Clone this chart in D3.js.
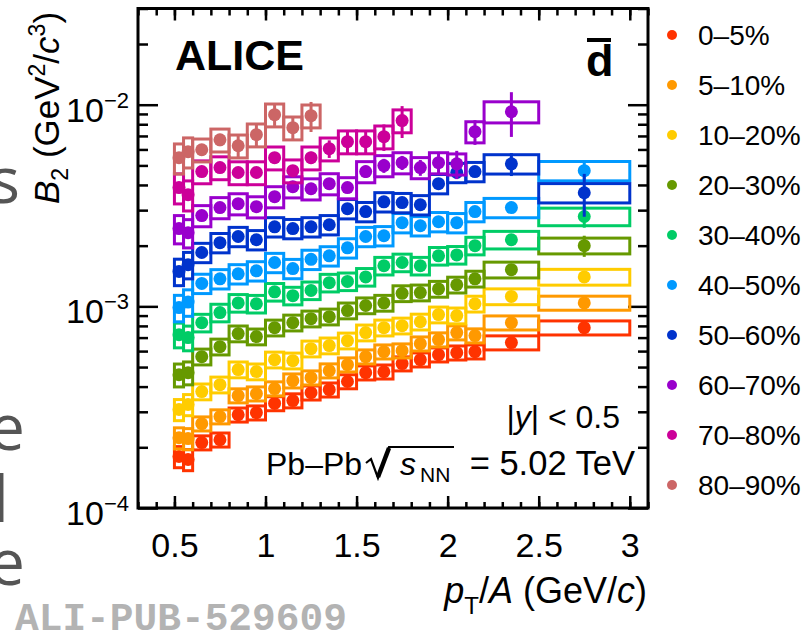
<!DOCTYPE html>
<html>
<head>
<meta charset="utf-8">
<script src="https://cdn.jsdelivr.net/npm/d3@7"></script>
<style>
  body { margin: 0; background: #fff; }
  svg { display: block; font-family: "Liberation Sans", Arial, Helvetica, sans-serif; }
</style>
</head>
<body>
<div id="chart"></div>
<script>
// pT/A bin edges (GeV/c)
var binEdges = [0.5, 0.55, 0.6, 0.7, 0.8, 0.9, 1.0, 1.1, 1.2, 1.3, 1.4, 1.5, 1.6, 1.7, 1.8, 1.9, 2.0, 2.1, 2.2, 2.5, 3.0];

var centralities = ["0–5%", "5–10%", "10–20%", "20–30%", "30–40%", "40–50%", "50–60%", "60–70%", "70–80%", "80–90%"];
var colors = ["#ff3300", "#ff9900", "#ffcc00", "#669900", "#00cc66", "#0099ff", "#0033cc", "#9900cc", "#cc0099", "#cc6666"];

// B2 in units of 1e-3 GeV^2/c^3, one value per bin (null = no point)
var b2_0_5   = [0.180, 0.174, 0.211, 0.218, 0.290, 0.297, 0.330, 0.341, 0.373, 0.386, 0.424, 0.469, 0.474, 0.520, 0.544, 0.576, 0.589, 0.596, 0.661, 0.784];
var b2_5_10  = [0.223, 0.221, 0.262, 0.284, 0.361, 0.369, 0.391, 0.428, 0.443, 0.480, 0.514, 0.563, 0.596, 0.603, 0.653, 0.684, 0.741, 0.716, 0.830, 1.04];
var b2_10_20 = [0.308, 0.326, 0.378, 0.409, 0.486, 0.475, 0.544, 0.538, 0.617, 0.639, 0.676, 0.741, 0.784, 0.802, 0.839, 0.910, 0.900, 1.03, 1.12, 1.40];
var b2_20_30 = [0.458, 0.469, 0.563, 0.631, 0.733, 0.708, 0.784, 0.830, 0.869, 0.889, 0.953, 1.01, 1.04, 1.16, 1.17, 1.22, 1.28, 1.37, 1.52, 2.00];
var b2_30_40 = [0.724, 0.700, 0.830, 0.931, 1.04, 1.03, 1.18, 1.13, 1.20, 1.31, 1.33, 1.40, 1.59, 1.65, 1.59, 1.78, 1.80, 2.00, 2.14, 2.79];
var b2_40_50 = [0.986, 1.05, 1.30, 1.37, 1.45, 1.50, 1.65, 1.54, 1.71, 1.78, 1.95, 2.22, 2.24, 2.60, 2.51, 2.63, 2.60, 2.95, 3.09, 4.71];
var b2_50_60 = [1.49, 1.61, 1.85, 2.07, 2.22, 2.14, 2.48, 2.43, 2.48, 2.54, 3.05, 2.95, 3.30, 3.27, 3.19, 4.06, 4.61, 4.66, 5.09, 3.66];
var b2_60_70 = [2.43, 2.32, 2.82, 3.09, 3.23, 3.12, 3.50, 3.92, 3.83, 4.06, 3.88, 4.66, 4.99, 5.16, 4.88, 5.16, 5.09, 7.35, 9.23, null];
var b2_70_80 = [3.88, 3.58, 4.66, 4.88, 4.61, 4.61, 5.46, 4.71, 5.46, 6.05, 6.56, 6.56, 6.94, 8.34, null, null, null, null, null, null];
var b2_80_90 = [5.46, 5.85, 5.98, 6.70, 6.26, 7.10, 8.92, 7.69, 8.82, null, null, null, null, null, null, null, null, null, null, null];

// relative statistical uncertainties
var stat_0_5   = [0.04, 0.04, 0.03, 0.03, 0.03, 0.03, 0.03, 0.03, 0.03, 0.03, 0.03, 0.03, 0.03, 0.03, 0.03, 0.03, 0.03, 0.03, 0.04, 0.08];
var stat_5_10  = [0.04, 0.04, 0.03, 0.03, 0.03, 0.03, 0.03, 0.03, 0.03, 0.03, 0.03, 0.03, 0.03, 0.03, 0.03, 0.03, 0.03, 0.03, 0.04, 0.06];
var stat_10_20 = [0.04, 0.04, 0.03, 0.03, 0.03, 0.03, 0.03, 0.03, 0.03, 0.03, 0.03, 0.03, 0.03, 0.03, 0.03, 0.03, 0.03, 0.03, 0.04, 0.06];
var stat_20_30 = [0.04, 0.04, 0.03, 0.03, 0.03, 0.03, 0.03, 0.03, 0.03, 0.03, 0.03, 0.03, 0.03, 0.03, 0.03, 0.03, 0.03, 0.04, 0.05, 0.12];
var stat_30_40 = [0.04, 0.04, 0.03, 0.03, 0.03, 0.03, 0.03, 0.03, 0.03, 0.03, 0.03, 0.03, 0.03, 0.03, 0.03, 0.03, 0.04, 0.04, 0.05, 0.12];
var stat_40_50 = [0.04, 0.04, 0.03, 0.03, 0.03, 0.03, 0.03, 0.03, 0.03, 0.03, 0.03, 0.03, 0.03, 0.04, 0.04, 0.04, 0.04, 0.05, 0.05, 0.10];
var stat_50_60 = [0.04, 0.04, 0.03, 0.03, 0.03, 0.03, 0.03, 0.03, 0.04, 0.04, 0.04, 0.04, 0.04, 0.05, 0.05, 0.05, 0.06, 0.06, 0.13, 0.24];
var stat_60_70 = [0.04, 0.04, 0.04, 0.04, 0.04, 0.04, 0.05, 0.05, 0.05, 0.06, 0.06, 0.07, 0.08, 0.08, 0.09, 0.13, 0.16, 0.14, 0.25, null];
var stat_70_80 = [0.05, 0.05, 0.05, 0.05, 0.05, 0.06, 0.06, 0.06, 0.07, 0.10, 0.13, 0.14, 0.15, 0.18, null, null, null, null, null, null];
var stat_80_90 = [0.06, 0.06, 0.05, 0.07, 0.14, 0.13, 0.12, 0.13, 0.17, null, null, null, null, null, null, null, null, null, null, null];

// relative systematic uncertainty per centrality, regular bins / two lowest bins
var sysRel      = [0.08, 0.08, 0.09, 0.09, 0.10, 0.11, 0.11, 0.12, 0.13, 0.13];
var sysRelLowPt = [0.12, 0.12, 0.12, 0.13, 0.14, 0.15, 0.15, 0.16, 0.17, 0.17];

var values = [b2_0_5, b2_5_10, b2_10_20, b2_20_30, b2_30_40, b2_40_50, b2_50_60, b2_60_70, b2_70_80, b2_80_90];
var stats = [stat_0_5, stat_5_10, stat_10_20, stat_20_30, stat_30_40, stat_40_50, stat_50_60, stat_60_70, stat_70_80, stat_80_90];

// axis ticks
var xMajorTicks = [0.5, 1, 1.5, 2, 2.5, 3];
var xTickLabels = ["0.5", "1", "1.5", "2", "2.5", "3"];
var xMinorTicks = [0.3, 0.4, 0.5, 0.6, 0.7, 0.8, 0.9, 1.0, 1.1, 1.2, 1.3, 1.4, 1.5, 1.6, 1.7, 1.8, 1.9, 2.0,
                   2.1, 2.2, 2.3, 2.4, 2.5, 2.6, 2.7, 2.8, 2.9, 3.0, 3.1];
var yMajorTicks = [1e-4, 1e-3, 1e-2];
var yTickExponents = ["−4", "−3", "−2"];
var yMinorTicks = [2e-4, 3e-4, 4e-4, 5e-4, 6e-4, 7e-4, 8e-4, 9e-4,
                   2e-3, 3e-3, 4e-3, 5e-3, 6e-3, 7e-3, 8e-3, 9e-3, 2e-2, 3e-2];

var svgWidth = 809, svgHeight = 635;
var plot = { left: 138, right: 648, top: 8.5, bottom: 508 };

var svg = d3.select("#chart").append("svg")
    .attr("width", svgWidth)
    .attr("height", svgHeight);

// scales
var xScale = d3.scaleLinear().domain([0.3, 3.1]).range([plot.left, plot.right]);
var yScale = d3.scaleLog().domain([1e-4, 3e-2]).range([plot.bottom, plot.top]);

// leftover text from a neighbouring slide, cut at the left edge
var fragments = [["s", 20, 203], ["e", 25, 450], ["l", 9, 522], ["e", 25, 585]];
svg.selectAll(".frag").data(fragments).enter().append("text")
    .attr("class", "frag")
    .attr("x", function(d) { return d[1]; })
    .attr("y", function(d) { return d[2]; })
    .attr("text-anchor", "end")
    .style("font-family", "'Open Sans', sans-serif")
    .style("font-size", "64px")
    .style("fill", "#555")
    .text(function(d) { return d[0]; });

// axes (ticks inside the frame)
function styleAxis(g) {
    g.select(".domain").remove();
    g.selectAll(".tick line").attr("stroke", "#000").attr("stroke-width", 2.5);
}
svg.append("g").attr("transform", "translate(0," + plot.bottom + ")")
    .call(d3.axisBottom(xScale).tickValues(xMinorTicks).tickSize(-6).tickFormat("")).call(styleAxis);
svg.append("g").attr("transform", "translate(0," + plot.top + ")")
    .call(d3.axisTop(xScale).tickValues(xMinorTicks).tickSize(-7).tickFormat("")).call(styleAxis);
var xAxisGroup = svg.append("g").attr("transform", "translate(0," + plot.bottom + ")")
    .call(d3.axisBottom(xScale).tickValues(xMajorTicks).tickSize(-12).tickPadding(25)
        .tickFormat(function(d, i) { return xTickLabels[i]; }))
    .call(styleAxis);
xAxisGroup.selectAll("text").style("font-size", "34px").style("font-family", "'Liberation Sans', Arial, sans-serif").attr("fill", "#000");
svg.append("g").attr("transform", "translate(0," + plot.top + ")")
    .call(d3.axisTop(xScale).tickValues(xMajorTicks).tickSize(-12).tickFormat("")).call(styleAxis);

svg.append("g").attr("transform", "translate(" + plot.left + ",0)")
    .call(d3.axisLeft(yScale).tickValues(yMinorTicks).tickSize(-10).tickFormat("")).call(styleAxis);
svg.append("g").attr("transform", "translate(" + plot.right + ",0)")
    .call(d3.axisRight(yScale).tickValues(yMinorTicks).tickSize(-10).tickFormat("")).call(styleAxis);
svg.append("g").attr("transform", "translate(" + plot.left + ",0)")
    .call(d3.axisLeft(yScale).tickValues(yMajorTicks).tickSize(-20).tickFormat("")).call(styleAxis);
svg.append("g").attr("transform", "translate(" + plot.right + ",0)")
    .call(d3.axisRight(yScale).tickValues(yMajorTicks).tickSize(-20).tickFormat("")).call(styleAxis);

// y tick labels 10^n
var yLab = svg.selectAll(".ylab").data(yMajorTicks).enter().append("text")
    .attr("class", "ylab")
    .attr("x", 129)
    .attr("y", function(d) { return yScale(d) + 17; })
    .attr("text-anchor", "end")
    .style("font-size", "34px");
yLab.append("tspan").text("10");
yLab.append("tspan").attr("dy", -14).style("font-size", "22px")
    .text(function(d, i) { return yTickExponents[i]; });

// frame
svg.append("rect")
    .attr("x", plot.left).attr("y", plot.top)
    .attr("width", plot.right - plot.left).attr("height", plot.bottom - plot.top)
    .attr("fill", "none").attr("stroke", "#000").attr("stroke-width", 3);

// data marks
var series = values.map(function(vals, c) {
    var pts = [];
    vals.forEach(function(v, i) {
        if (v === null) return;
        var val = v * 1e-3;
        pts.push({
            lo: binEdges[i], hi: binEdges[i + 1],
            pt: (binEdges[i] + binEdges[i + 1]) / 2,
            v: val,
            stat: stats[c][i] * val,
            sys: (i < 2 ? sysRelLowPt[c] : sysRel[c]) * val
        });
    });
    return { name: centralities[c], color: colors[c], points: pts };
});

var markG = svg.append("g");
series.forEach(function(s) {
    var g = markG.append("g");
    g.selectAll("rect").data(s.points).enter().append("rect")
        .attr("x", function(d) { return xScale(d.lo); })
        .attr("width", function(d) { return xScale(d.hi) - xScale(d.lo); })
        .attr("y", function(d) { return yScale(d.v + d.sys); })
        .attr("height", function(d) { return yScale(d.v - d.sys) - yScale(d.v + d.sys); })
        .attr("fill", "none")
        .attr("stroke", s.color)
        .attr("stroke-width", 3);
    g.selectAll("line").data(s.points).enter().append("line")
        .attr("x1", function(d) { return xScale(d.pt); })
        .attr("x2", function(d) { return xScale(d.pt); })
        .attr("y1", function(d) { return yScale(d.v + d.stat); })
        .attr("y2", function(d) { return yScale(d.v - d.stat); })
        .attr("stroke", s.color)
        .attr("stroke-width", 3);
    g.selectAll("circle").data(s.points).enter().append("circle")
        .attr("cx", function(d) { return xScale(d.pt); })
        .attr("cy", function(d) { return yScale(d.v); })
        .attr("r", 6.5)
        .attr("fill", s.color);
});

// ALICE and antideuteron labels
svg.append("text").attr("x", 175).attr("y", 70)
    .style("font-size", "43px").style("font-weight", "bold").text("ALICE");
svg.append("text").attr("x", 586).attr("y", 76)
    .style("font-size", "45px").style("font-weight", "bold").text("d");
svg.append("line").attr("x1", 587).attr("x2", 611).attr("y1", 40).attr("y2", 40)
    .attr("stroke", "#000").attr("stroke-width", 4);

// |y| < 0.5
var rap = svg.append("text").attr("x", 620).attr("y", 428)
    .attr("text-anchor", "end").style("font-size", "32px");
rap.append("tspan").text("|");
rap.append("tspan").style("font-style", "italic").text("y");
rap.append("tspan").text("| < 0.5");

// Pb–Pb sqrt(sNN) = 5.02 TeV
var base = 475;
var sysG = svg.append("g").style("font-size", "32px");
sysG.append("text").attr("x", 266).attr("y", base).text("Pb–Pb");
sysG.append("path")
    .attr("d", "M366," + (base - 12) + " L371," + (base - 16) + " L378," + (base + 3) +
        " L389," + (base - 28) + " L454," + (base - 28))
    .attr("fill", "none").attr("stroke", "#000").attr("stroke-width", 2.2);
sysG.append("path")
    .attr("d", "M378," + (base + 2) + " L389," + (base - 27))
    .attr("stroke", "#000").attr("stroke-width", 4.5);
sysG.append("text").attr("x", 400).attr("y", base).style("font-style", "italic").text("s");
sysG.append("text").attr("x", 420).attr("y", base + 7).style("font-size", "21px").text("NN");
sysG.append("text").attr("x", 635).attr("y", base).attr("text-anchor", "end")
    .style("font-size", "34.5px").text("= 5.02 TeV");

// axis titles
var xt = svg.append("text").attr("x", 647).attr("y", 603)
    .attr("text-anchor", "end").style("font-size", "36px");
xt.append("tspan").style("font-style", "italic").text("p");
xt.append("tspan").attr("dy", 11).style("font-size", "24px").text("T");
xt.append("tspan").attr("dy", -11).text("/");
xt.append("tspan").style("font-style", "italic").text("A");
xt.append("tspan").text(" (GeV/");
xt.append("tspan").style("font-style", "italic").text("c");
xt.append("tspan").text(")");

var yt = svg.append("text").attr("transform", "translate(59,204) rotate(-90)")
    .style("font-size", "35px");
yt.append("tspan").style("font-style", "italic").text("B");
yt.append("tspan").attr("dy", 9).style("font-size", "23px").text("2");
yt.append("tspan").attr("dy", -9).text(" (GeV");
yt.append("tspan").attr("dy", -14).style("font-size", "23px").text("2");
yt.append("tspan").attr("dy", 14).text("/");
yt.append("tspan").style("font-style", "italic").text("c");
yt.append("tspan").attr("dy", -14).style("font-size", "23px").text("3");
yt.append("tspan").attr("dy", 14).text(")");

// legend
var legend = svg.selectAll(".leg").data(series).enter().append("g")
    .attr("class", "leg")
    .attr("transform", function(d, i) { return "translate(672," + (35 + i * 50) + ")"; });
legend.append("circle").attr("r", 5).attr("fill", function(d) { return d.color; });
legend.append("text").attr("x", 26).attr("dy", "0.36em")
    .style("font-size", "28px").text(function(d) { return d.name; });

// publication id
svg.append("text").attr("x", 15).attr("y", 630)
    .style("font-family", "'Liberation Mono', 'DejaVu Sans Mono', monospace")
    .style("font-weight", "bold").style("font-size", "39.5px").style("fill", "#b3b3b3")
    .text("ALI-PUB-529609");
</script>
</body>
</html>
